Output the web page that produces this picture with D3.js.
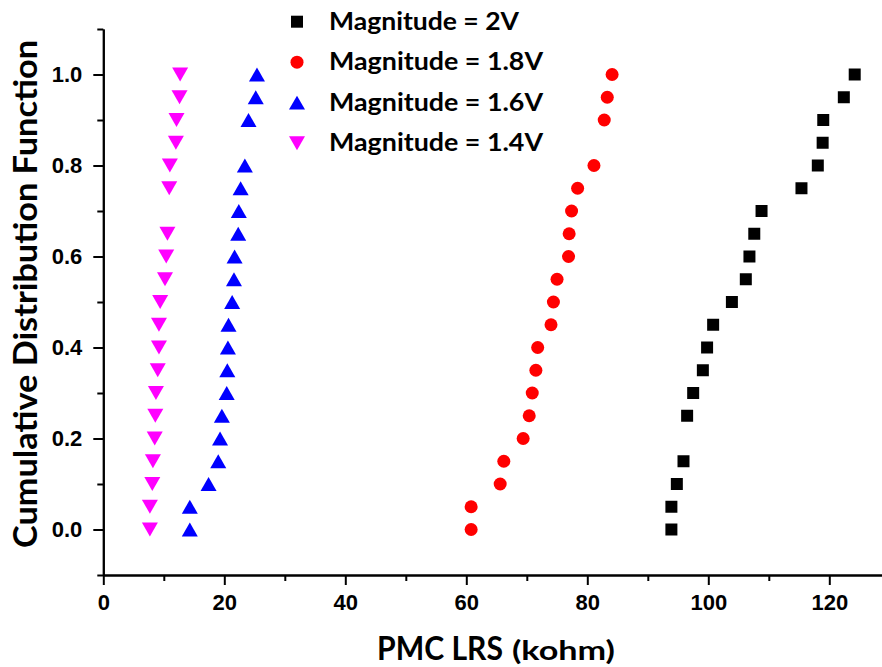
<!DOCTYPE html>
<html>
<head>
<meta charset="utf-8">
<script src="https://cdn.jsdelivr.net/npm/d3@7"></script>
<style>
  body { margin: 0; background: #fff; }
  svg { display: block; }
</style>
</head>
<body>
<div id="chart"></div>
<script>
// cumulative levels shared by every series (null = no point at that level)
const cdfLevels = [0.00, 0.05, 0.10, 0.15, 0.20, 0.25, 0.30, 0.35, 0.40, 0.45, 0.50,
                   0.55, 0.60, 0.65, 0.70, 0.75, 0.80, 0.85, 0.90, 0.95, 1.00];

const lrs2V  = [93.9, 93.9, 94.8, 95.9, null, 96.5, 97.5, 99.1, 99.8, 100.8, 103.9,
                106.2, 106.8, 107.6, 108.8, 115.4, 118.1, 118.9, 119.0, 122.4, 124.2];
const lrs18V = [60.8, 60.8, 65.6, 66.2, 69.4, 70.4, 70.9, 71.5, 71.8, 74.0, 74.4,
                75.0, 76.9, 77.0, 77.4, 78.4, 81.1, null, 82.8, 83.3, 84.1];
const lrs16V = [14.3, 14.3, 17.4, 19.0, 19.3, 19.6, 20.4, 20.5, 20.6, 20.7, 21.3,
                21.6, 21.7, 22.3, 22.4, 22.7, 23.4, null, 24.0, 25.2, 25.4];
const lrs14V = [7.7, 7.7, 8.1, 8.2, 8.5, 8.6, 8.7, 9.0, 9.2, 9.2, 9.4,
                10.2, 10.4, 10.6, null, 10.9, 11.0, 12.0, 12.1, 12.6, 12.7];

const seriesLabels = ["Magnitude = 2V", "Magnitude = 1.8V", "Magnitude = 1.6V", "Magnitude = 1.4V"];

const xMajorTicks = [0, 20, 40, 60, 80, 100, 120];
const xMinorTicks = [10, 30, 50, 70, 90, 110];
const yMajorTicks = [0.0, 0.2, 0.4, 0.6, 0.8, 1.0];
const yMinorTicks = [-0.1, 0.1, 0.3, 0.5, 0.7, 0.9, 1.1];

const width = 882, height = 667;
const margin = { top: 29, left: 103.3, bottom: 92 };

// marker style per series
const markers = [
  { type: d3.symbolSquare,   size: 144, color: "#000000", flip: false, shift: 0 },
  { type: d3.symbolCircle,   size: 133, color: "#ff0000", flip: false, shift: 0 },
  { type: d3.symbolTriangle, size: 111, color: "#0000ff", flip: false, shift: 2.3 },
  { type: d3.symbolTriangle, size: 111, color: "#ff00ff", flip: true,  shift: -2.3 }
];

const series = [lrs2V, lrs18V, lrs16V, lrs14V].map((vals, i) => ({
  label: seriesLabels[i],
  marker: markers[i],
  points: vals.map((x, j) => ({ x: x, y: cdfLevels[j] })).filter(d => d.x !== null)
}));

const svg = d3.select("#chart").append("svg")
  .attr("width", width)
  .attr("height", height);

const xScale = d3.scaleLinear()
  .domain([0, 130])
  .range([margin.left, margin.left + 130 * 6.05]);

const yScale = d3.scaleLinear()
  .domain([-0.1, 1.1])
  .range([height - margin.bottom, margin.top]);

const tickFont = "'Liberation Sans', Arial, sans-serif";
const titleFont = "Lato, 'Open Sans', sans-serif";

function styleAxis(g) {
  g.select(".domain").attr("stroke", "#000").attr("stroke-width", 2);
  g.selectAll(".tick line").attr("stroke", "#000").attr("stroke-width", 2);
  g.selectAll(".tick text")
    .attr("fill", "#000")
    .style("font-family", tickFont)
    .style("font-weight", "bold")
    .style("font-size", "22px");
}

// x axis: minor first, then major with labels
svg.append("g")
  .attr("transform", `translate(0, ${yScale(-0.1)})`)
  .call(d3.axisBottom(xScale).tickValues(xMinorTicks).tickSize(6).tickSizeOuter(0).tickFormat(""))
  .call(styleAxis);

svg.append("g")
  .attr("transform", `translate(0, ${yScale(-0.1)})`)
  .call(d3.axisBottom(xScale).tickValues(xMajorTicks).tickSize(10).tickPadding(9).tickSizeOuter(0).tickFormat(d3.format("d")))
  .call(styleAxis);

// y axis
svg.append("g")
  .attr("transform", `translate(${xScale(0)}, 0)`)
  .call(d3.axisLeft(yScale).tickValues(yMinorTicks).tickSize(6).tickSizeOuter(0).tickFormat(""))
  .call(styleAxis);

svg.append("g")
  .attr("transform", `translate(${xScale(0)}, 0)`)
  .call(d3.axisLeft(yScale).tickValues(yMajorTicks).tickSize(10).tickPadding(11).tickSizeOuter(0).tickFormat(d3.format(".1f")))
  .call(styleAxis);

// points
function markerPath(m) {
  return d3.symbol().type(m.type).size(m.size)();
}

series.forEach(s => {
  svg.append("g")
    .selectAll("path")
    .data(s.points)
    .join("path")
    .attr("d", markerPath(s.marker))
    .attr("fill", s.marker.color)
    .attr("transform", d => `translate(${xScale(d.x)}, ${yScale(d.y) + s.marker.shift})` + (s.marker.flip ? " rotate(180)" : ""));
});

// legend
const legend = svg.append("g").attr("class", "legend");
const legendWidths = [190, 214, 214, 214];

series.forEach((s, i) => {
  const ly = 21.7 + i * 40.5;
  legend.append("path")
    .attr("d", markerPath(s.marker))
    .attr("fill", s.marker.color)
    .attr("transform", `translate(297, ${ly + s.marker.shift})` + (s.marker.flip ? " rotate(180)" : ""));
  legend.append("text")
    .attr("x", 329)
    .attr("y", ly + 8)
    .attr("textLength", legendWidths[i])
    .attr("lengthAdjust", "spacingAndGlyphs")
    .style("font-family", titleFont)
    .style("font-weight", "bold")
    .style("font-size", "24px")
    .attr("fill", "#000")
    .text(s.label);
});

// axis titles
svg.append("text")
  .attr("transform", `translate(37, 294) rotate(-90)`)
  .attr("text-anchor", "middle")
  .attr("textLength", 508)
  .attr("lengthAdjust", "spacingAndGlyphs")
  .style("font-family", titleFont)
  .style("font-weight", "bold")
  .style("font-size", "33px")
  .attr("fill", "#000")
  .text("Cumulative Distribution Function");

svg.append("text")
  .attr("x", 377)
  .attr("y", 660)
  .attr("textLength", 126)
  .attr("lengthAdjust", "spacingAndGlyphs")
  .style("font-family", titleFont)
  .style("font-weight", "bold")
  .style("font-size", "32px")
  .attr("fill", "#000")
  .text("PMC LRS");

svg.append("text")
  .attr("x", 512)
  .attr("y", 660)
  .attr("textLength", 103)
  .attr("lengthAdjust", "spacingAndGlyphs")
  .style("font-family", titleFont)
  .style("font-weight", "bold")
  .style("font-size", "26px")
  .attr("fill", "#000")
  .text("(kohm)");
</script>
</body>
</html>
